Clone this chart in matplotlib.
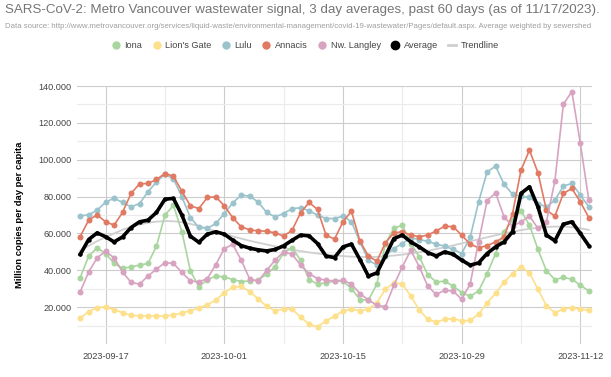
import numpy as np
import pandas as pd
import matplotlib
matplotlib.use("Agg")
import matplotlib.pyplot as plt
from matplotlib.lines import Line2D

plt.rcParams['font.family'] = ['Liberation Sans', 'DejaVu Sans']

# 3 day averages, one point per day from 2023-09-14 to 2023-11-13
dates = pd.date_range("2023-09-14", "2023-11-13", freq="D")

iona = [35.9, 47.7, 52.2, 49.1, 43.7, 41.0, 41.9, 42.8, 43.7, 53.1,
        69.9, 75.3, 60.9, 39.7, 31.0, 35.0, 36.8, 36.4, 35.0, 33.9,
        34.2, 34.8, 37.9, 41.9, 49.5, 52.2, 45.5, 35.0, 32.5, 33.2,
        34.1, 34.1, 30.1, 24.1, 23.8, 32.5, 54.5, 62.7, 64.5, 54.5,
        47.3, 37.6, 33.7, 34.1, 31.4, 27.9, 25.9, 28.8, 38.2, 49.1,
        60.9, 67.2, 72.3, 64.5, 51.3, 39.7, 35.0, 36.1, 35.2, 31.9,
        28.8]
lions_gate = [13.9, 17.6, 19.8, 20.2, 18.6, 17.0, 15.6, 15.2, 15.2, 15.2,
              15.2, 15.8, 16.8, 18.1, 19.5, 21.3, 23.8, 27.9, 30.8, 31.3,
              28.3, 24.5, 20.4, 18.1, 18.9, 18.9, 14.7, 10.6, 9.4, 12.5,
              15.1, 17.9, 18.9, 18.1, 18.9, 22.3, 29.8, 33.2, 32.6, 26.0,
              18.5, 13.4, 11.9, 13.4, 13.8, 12.5, 12.8, 16.2, 22.3, 27.5,
              33.5, 38.2, 41.9, 38.6, 29.7, 20.7, 17.0, 19.0, 19.8, 19.0,
              18.2]
lulu = [69.5, 70.1, 72.6, 77.0, 79.1, 76.8, 74.4, 76.2, 82.6, 88.0,
        92.2, 89.6, 79.9, 68.6, 63.3, 62.7, 65.4, 70.8, 76.6, 80.8,
        80.2, 77.0, 71.4, 69.0, 70.8, 73.5, 73.9, 72.3, 69.9, 68.1,
        68.1, 69.4, 66.3, 55.4, 45.5, 42.8, 47.7, 51.8, 54.5, 57.6,
        56.7, 55.7, 54.2, 53.1, 51.3, 49.1, 57.8, 77.1, 93.4, 96.5,
        86.7, 81.3, 80.2, 79.5, 76.2, 74.4, 78.1, 85.7, 87.1, 80.8,
        74.4]
annacis = [58.3, 67.2, 70.1, 66.3, 64.5, 71.4, 81.7, 86.9, 87.1, 89.3,
           92.5, 91.1, 82.8, 75.0, 73.5, 79.5, 79.9, 75.0, 68.5, 63.6,
           61.9, 61.4, 61.2, 60.3, 58.5, 61.8, 71.2, 76.8, 73.0, 59.1,
           56.9, 66.3, 72.1, 55.8, 47.8, 44.9, 54.9, 60.3, 60.9, 59.1,
           58.2, 59.1, 61.4, 63.9, 63.6, 59.1, 54.2, 52.2, 53.4, 55.4,
           58.1, 70.8, 94.3, 105.2, 92.9, 72.6, 69.4, 81.7, 84.4, 77.1,
           68.6]
nw_langley = [28.3, 39.1, 46.7, 50.4, 46.7, 39.1, 33.4, 32.5, 36.9, 40.6,
              44.2, 43.7, 38.8, 34.3, 33.7, 35.5, 43.1, 51.8, 54.0, 45.5,
              35.2, 34.1, 40.0, 45.5, 50.0, 48.7, 42.8, 38.2, 35.5, 34.6,
              34.3, 34.6, 32.5, 27.4, 23.8, 21.1, 20.2, 31.9, 41.9, 50.9,
              41.9, 31.4, 26.9, 29.2, 28.7, 24.3, 32.5, 55.4, 77.7, 82.0,
              69.0, 63.9, 66.3, 69.4, 62.7, 66.3, 88.6, 130.2, 136.9, 108.8,
              78.1]
average = [48.6, 56.7, 60.3, 58.2, 55.4, 58.1, 63.2, 66.3, 67.2, 71.4,
           78.6, 79.0, 69.9, 58.5, 55.2, 59.6, 60.9, 59.6, 56.3, 53.4,
           52.0, 51.1, 50.5, 51.3, 53.3, 56.3, 59.1, 58.7, 54.5, 47.7,
           46.9, 52.7, 54.2, 45.8, 36.8, 38.6, 47.7, 57.2, 59.1, 55.4,
           52.7, 49.6, 47.8, 50.0, 48.7, 45.5, 42.8, 44.0, 49.1, 52.7,
           55.4, 60.9, 81.7, 85.3, 74.4, 59.1, 56.0, 65.0, 66.3, 60.0,
           53.3]
trendline = [50.5, 53.3, 55.8, 58.0, 60.0, 62.0, 63.6, 64.8, 65.8, 66.4,
             66.7, 66.6, 66.1, 65.2, 64.0, 62.6, 61.2, 59.8, 58.4, 57.2,
             56.0, 55.0, 54.0, 53.0, 52.1, 51.2, 50.4, 49.7, 49.1, 48.6,
             48.1, 47.7, 47.4, 47.2, 47.2, 47.3, 47.6, 48.0, 48.5, 49.1,
             49.8, 50.6, 51.5, 52.5, 53.5, 54.6, 55.7, 56.8, 57.9, 59.0,
             60.0, 60.9, 61.8, 62.5, 63.1, 63.5, 63.7, 63.7, 63.4, 62.8,
             61.9]

series = [
    ("Iona", iona, "#a9d59f"),
    ("Lion's Gate", lions_gate, "#fde08b"),
    ("Lulu", lulu, "#9ac3cc"),
    ("Annacis", annacis, "#e07a63"),
    ("Nw. Langley", nw_langley, "#d7a3c1"),
]

y_ticks = [20, 40, 60, 80, 100, 120, 140]
y_tick_labels = ["20.000", "40.000", "60.000", "80.000", "100.000", "120.000", "140.000"]
x_ticks = ["2023-09-17", "2023-10-01", "2023-10-15", "2023-10-29", "2023-11-12"]

W, H = 611, 377
fig = plt.figure(figsize=(W / 100, H / 100), dpi=100)
ax = fig.add_axes([77 / W, 1 - 344 / H, (592 - 77) / W, (344 - 86) / H])

# series
ax.plot(dates, trendline, color="#cfcfcf", lw=1.3, zorder=2)
for name, vals, col in series:
    ax.plot(dates, vals, color=col, lw=1.2, marker="o", ms=4.3,
            markeredgewidth=0, zorder=3)
ax.plot(dates, average, color="black", lw=2.6, marker="o", ms=3.2,
        markeredgewidth=0, zorder=4)

# axes / grid
ax.set_xlim(pd.Timestamp("2023-09-14") - pd.Timedelta(hours=9),
            pd.Timestamp("2023-11-13") + pd.Timedelta(hours=9))
ax.set_ylim(0, 140)
ax.set_yticks(y_ticks)
ax.set_yticklabels(y_tick_labels)
ax.set_yticks(np.arange(10, 140, 20), minor=True)
ax.set_xticks(pd.to_datetime(x_ticks))
ax.set_xticklabels(x_ticks)
ax.set_xticks(pd.to_datetime(x_ticks[:-1]) + pd.Timedelta(days=7), minor=True)
ax.grid(True, which="major", color="#cccccc", lw=0.8, zorder=0)
ax.grid(True, which="minor", color="#ebebeb", lw=0.8, zorder=0)
ax.set_axisbelow(True)
for s in ax.spines.values():
    s.set_visible(False)
ax.tick_params(which="both", length=0)
ax.tick_params(axis="y", labelsize=6.6, labelcolor="#444444", pad=4)
ax.tick_params(axis="x", labelsize=6.6, labelcolor="#444444", pad=6)
ax.set_ylabel("Million copies per day per capita", fontsize=6.8, fontweight="bold",
              color="black", labelpad=10)

# titles
fig.text(5 / W, 1 - 10 / H, "SARS-CoV-2: Metro Vancouver wastewater signal, 3 day averages, "
         "past 60 days (as of 11/17/2023).", fontsize=9.6, color="#757575", va="center")
fig.text(5 / W, 1 - 26 / H, "Data source: http://www.metrovancouver.org/services/liquid-waste/"
         "environmental-management/covid-19-wastewater/Pages/default.aspx. Average weighted by sewershed",
         fontsize=5.6, color="#9e9e9e", va="center")

# legend
handles = [Line2D([], [], color=c, marker="o", ms=6, lw=0, markeredgewidth=0)
           for _, _, c in series]
handles.append(Line2D([], [], color="black", marker="o", ms=6, lw=0))
handles.append(Line2D([], [], color="#cfcfcf", lw=2))
labels = [n for n, _, _ in series] + ["Average", "Trendline"]
fig.legend(handles, labels, loc="center", bbox_to_anchor=(0.5, 1 - 46 / H), ncol=7,
           frameon=False, fontsize=6.6, handlelength=0.9, handletextpad=0.5,
           columnspacing=1.1, labelcolor="#444444")

fig.savefig("out.png", dpi=100)
